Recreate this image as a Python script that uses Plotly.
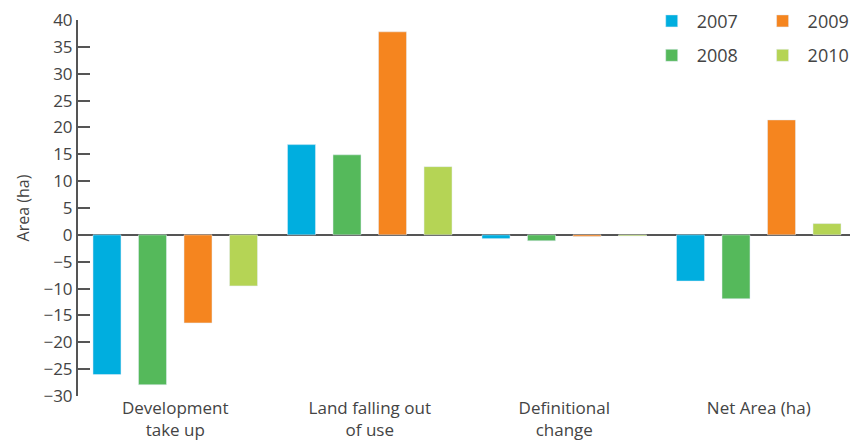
import plotly.graph_objects as go

categories = ['Development<br>take up', 'Land falling out<br>of use', 'Definitional<br>change', 'Net Area (ha)']
years = ['2007', '2008', '2009', '2010']
values = {
    '2007': [-26.0, 16.8, -0.7, -8.6],
    '2008': [-27.9, 14.9, -1.1, -11.9],
    '2009': [-16.4, 37.8, -0.3, 21.4],
    '2010': [-9.5, 12.7, -0.2, 2.1],
}
colors = {'2007': '#00AEDF', '2008': '#55B95B', '2009': '#F5851F', '2010': '#B5D455'}
legend_of = {'2007': 'legend', '2008': 'legend', '2009': 'legend2', '2010': 'legend2'}

fig = go.Figure()
for y in years:
    fig.add_bar(x=categories, y=values[y], name=y, marker_color=colors[y],
                legend=legend_of[y], legendgroup=y)

legend_style = dict(
    orientation='v', yanchor='top', y=1.046, xanchor='left',
    font=dict(family='Open Sans', size=18, color='#444'),
    tracegroupgap=8, itemwidth=40, bgcolor='rgba(0,0,0,0)', traceorder='grouped',
)

# page body has an 8px margin, so the margins are shifted to compensate
fig.update_layout(
    width=858, height=440,
    margin=dict(l=70, r=10, t=12, b=52, autoexpand=False),
    plot_bgcolor='white', paper_bgcolor='white',
    barmode='group', bargap=0.064, bargroupgap=0.385,
    font=dict(family='Open Sans', color='#444'),
    legend=dict(x=0.731, **legend_style),
    legend2=dict(x=0.8735, **legend_style),
    showlegend=True,
)
fig.update_xaxes(showline=False, showgrid=False, ticks='',
                 tickfont=dict(family='Open Sans', size=17, color='#444'))
fig.update_yaxes(range=[-30, 40], dtick=5, showgrid=False,
                 showline=True, linecolor='#555', linewidth=2,
                 ticks='inside', ticklen=12, tickwidth=2, tickcolor='#555',
                 ticklabeloverflow='allow',
                 zeroline=True, zerolinecolor='#555', zerolinewidth=2,
                 tickfont=dict(size=17, color='#444'),
                 title=dict(text='Area (ha)', font=dict(size=16, color='#444'), standoff=10))

fig.write_html('out.html')
